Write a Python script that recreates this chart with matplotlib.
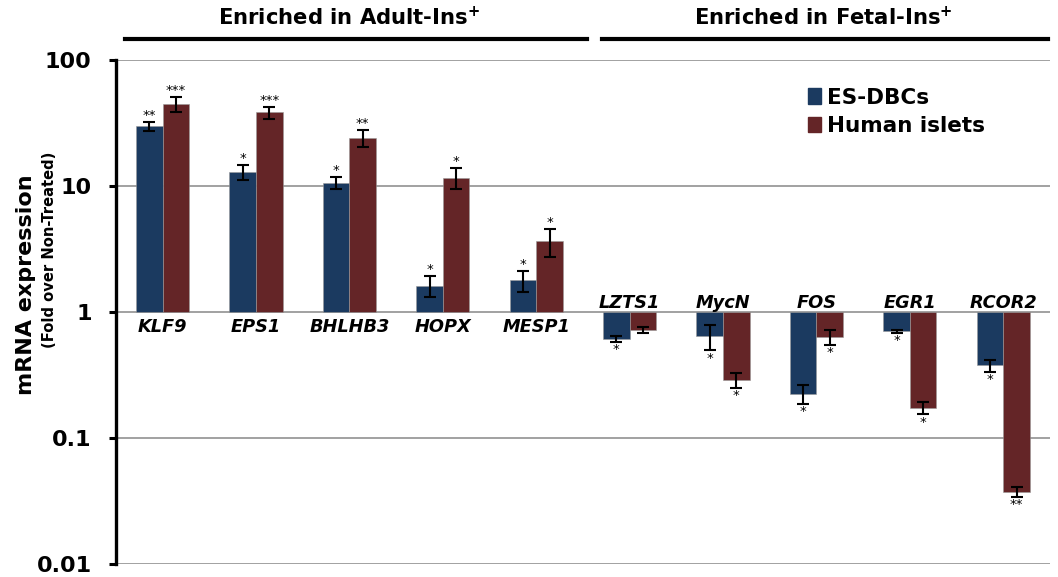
import numpy as np
import matplotlib.pyplot as plt
from matplotlib.lines import Line2D
from matplotlib.patches import Patch

plt.rcParams['font.family'] = ['DejaVu Sans']

genes = ['KLF9', 'EPS1', 'BHLHB3', 'HOPX', 'MESP1',
         'LZTS1', 'MycN', 'FOS', 'EGR1', 'RCOR2']

es_dbcs = [29.9, 12.9, 10.6, 1.62, 1.78, 0.614, 0.645, 0.225, 0.703, 0.377]
es_dbcs_err = [2.4, 1.8, 1.1, 0.30, 0.34, 0.035, 0.15, 0.038, 0.02, 0.04]
es_dbcs_sig = ['**', '*', '*', '*', '*', '*', '*', '*', '*', '*']

islets = [44.5, 38.5, 24.0, 11.6, 3.64, 0.716, 0.290, 0.633, 0.174, 0.0375]
islets_err = [6.0, 4.2, 3.6, 2.2, 0.9, 0.04, 0.04, 0.085, 0.02, 0.0035]
islets_sig = ['***', '***', '**', '*', '*', '', '*', '*', '*', '**']

series_names = ['ES-DBCs', 'Human islets']
colors = ['#1b3a60', '#642527']

fig = plt.figure(figsize=(10.58, 5.77), dpi=100)
ax = fig.add_axes([0.1096, 0.0225, 0.8828, 0.8735])

x = np.arange(len(genes))
width = 0.285
offsets = [-width / 2, width / 2]
all_vals = [es_dbcs, islets]
all_err = [es_dbcs_err, islets_err]
all_sig = [es_dbcs_sig, islets_sig]

for k in range(2):
    vals = np.array(all_vals[k])
    errs = np.array(all_err[k])
    xs = x + offsets[k]
    # bars grow up or down from a fold change of 1
    ax.bar(xs, vals - 1, width, bottom=1, color=colors[k],
           edgecolor='#9a9a9a', linewidth=0.4, zorder=3)
    ax.errorbar(xs, vals, yerr=errs, fmt='none', ecolor='black',
                elinewidth=1.5, capsize=4.5, capthick=1.5, zorder=4)
    for xi, v, e, s in zip(xs, vals, errs, all_sig[k]):
        if not s:
            continue
        if v >= 1:
            ax.annotate(s, (xi, v + e), xytext=(0, 0), textcoords='offset points',
                        ha='center', va='bottom', fontsize=9.5)
        else:
            ax.annotate(s, (xi, v - e), xytext=(0, -1), textcoords='offset points',
                        ha='center', va='top', fontsize=9.5)

# gene names next to the baseline
for xi, g, a in zip(x, genes, es_dbcs):
    if a >= 1:
        ax.annotate(g, (xi, 1), xytext=(0, -4), textcoords='offset points',
                    ha='center', va='top', fontsize=12.8, fontweight='bold',
                    fontstyle='italic')
    else:
        ax.annotate(g, (xi, 1), xytext=(0, 0), textcoords='offset points',
                    ha='center', va='bottom', fontsize=12.8, fontweight='bold',
                    fontstyle='italic')

ax.set_yscale('log')
ax.set_ylim(0.01, 100)
ax.set_xlim(-0.5, 9.5)
ax.set_yticks([0.01, 0.1, 1, 10, 100])
ax.set_yticklabels(['0.01', '0.1', '1', '10', '100'])
ax.minorticks_off()
ax.tick_params(axis='y', which='major', direction='out', length=5, width=2.2,
               labelsize=16, pad=12.5)
for lab in ax.get_yticklabels():
    lab.set_fontweight('bold')
ax.set_xticks([])
for side in ['top', 'right', 'bottom']:
    ax.spines[side].set_visible(False)
ax.spines['left'].set_linewidth(2.4)
for yv in [0.01, 0.1, 1, 10, 100]:
    ax.axhline(yv, color='#9a9a9a', linewidth=1.3, zorder=1)

# group headers with underline
trans = ax.get_xaxis_transform()
groups = [('Enriched in Adult-Ins$^{\\mathbf{+}}$', -0.404, 4.543, 1.995),
          ('Enriched in Fetal-Ins$^{\\mathbf{+}}$', 4.703, 9.479, 7.07)]
for name, x0, x1, xc in groups:
    ax.add_line(Line2D([x0, x1], [1.042, 1.042], transform=trans, color='black',
                       linewidth=3, clip_on=False))
    ax.text(xc, 1.085, name, transform=trans, ha='center', va='center',
            fontsize=15.2, fontweight='bold')

fig.text(0.025, 0.506, 'mRNA expression', rotation=90, ha='center', va='center',
         fontsize=16, fontweight='bold')
fig.text(0.0465, 0.567, '(Fold over Non-Treated)', rotation=90, ha='center',
         va='center', fontsize=10.6, fontweight='bold')

handles = [Patch(color=c) for c in colors]
leg = ax.legend(handles, series_names, loc='upper left',
                bbox_to_anchor=(0.741, 0.945), frameon=False, borderpad=0,
                borderaxespad=0, prop={'size': 15.5, 'weight': 'bold'},
                handlelength=0.6, handleheight=0.75, handletextpad=0.3,
                labelspacing=0.38)

fig.savefig('out.png', dpi=100)
